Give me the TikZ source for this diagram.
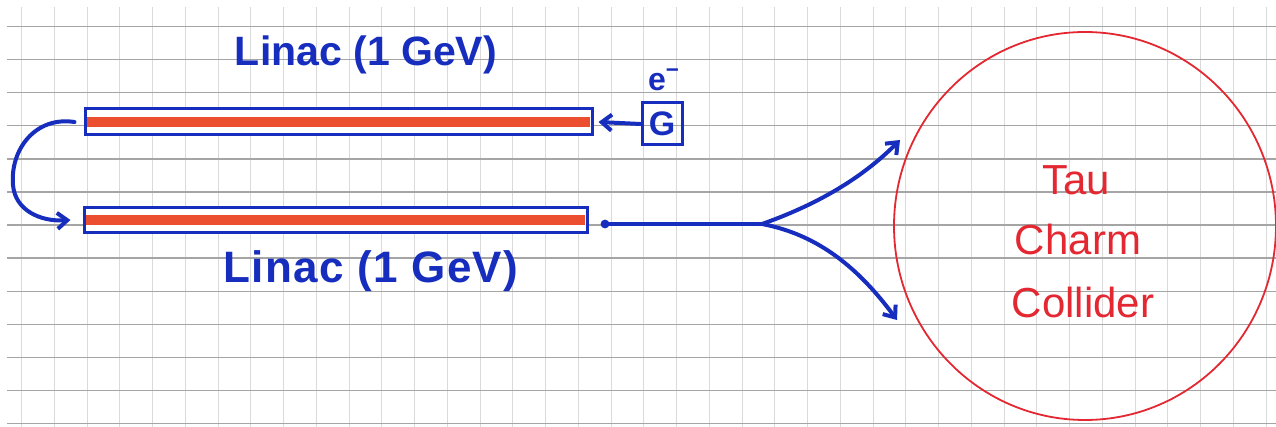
\documentclass[tikz,border=0pt]{standalone}
\usepackage{fontspec}
\setmainfont{Liberation Sans}
\usetikzlibrary{arrows.meta,shapes.geometric}
\definecolor{ink}{RGB}{22,45,190}
\definecolor{redink}{RGB}{228,40,50}
\definecolor{barred}{RGB}{236,78,48}
\definecolor{hgrid}{RGB}{165,165,165}
\definecolor{vgrid}{RGB}{218,218,218}
\begin{document}
\begin{tikzpicture}[x=0.5pt,y=-0.5pt,
  vline/.style={draw=vgrid, line width=0.5pt},
  hline/.style={draw=hgrid, line width=0.7pt},
  tube/.style={draw=ink, fill=white, line width=1.5pt, rectangle, inner sep=0pt,
    path picture={\fill[barred] ([yshift=-2.6pt]path picture bounding box.west) rectangle ([yshift=2.6pt,xshift=-1pt]path picture bounding box.east);}},
  gbox/.style={draw=ink, line width=1.5pt, rectangle, minimum width=20pt, minimum height=21pt, inner sep=0pt, text=ink, font=\fontsize{17}{20}\selectfont\bfseries},
  bluetext/.style={text=ink, inner sep=0pt, font=\fontsize{20.5}{25}\selectfont\bfseries},
  redtext/.style={text=redink, inner sep=0pt, font=\fontsize{21}{25}\selectfont},
  beam/.style={draw=ink, line width=2pt, line cap=round},
  beamarrow/.style={beam, -{Straight Barb[length=5pt,width=8pt,line width=2pt]}},
  ring/.style={draw=redink, line width=0.9pt, ellipse, inner sep=0pt}
]
\useasboundingbox (0,0) rectangle (1276,427);
\fill[white] (0,0) rectangle (1276,427);
% paper grid
\foreach \k in {0,...,38} \draw[vline] ({21.7+32.75*\k},7) -- ({21.7+32.75*\k},427);
\foreach \k in {0,...,12} \draw[hline] (7,{26.5+33.1*\k}) -- (1276,{26.5+33.1*\k});

% linacs
\node[tube, minimum width=253.5pt, minimum height=13pt] (L1) at (338.5,122) {};
\node[tube, minimum width=251.5pt, minimum height=12.5pt] (L2) at (335.5,220) {};
\node[bluetext] (t1) at (366,55) {Linac (1 GeV)};
\node[bluetext, font=\fontsize{22}{26}\selectfont\bfseries\addfontfeatures{LetterSpace=3}] (t2) at (371,271) {Linac (1 GeV)};

% gun
\node[gbox] (G) at (662,124) {G};
\node[bluetext, font=\fontsize{16}{18}\selectfont\bfseries] (e) at (664,80) {e\textsuperscript{−}};
\draw[beamarrow] (G.west) -- ([xshift=2.5pt]L1.east);

% turnaround
\draw[beamarrow] ([xshift=-4.5pt]L1.west) .. controls (35,116) and (10,150) .. (13,185)
  .. controls (15,210) and (40,222) .. ([xshift=-6pt]L2.west);

% extraction line and split
\coordinate (S) at (605,224);
\coordinate (J) at (762,224);
\coordinate (up) at (900,140);
\coordinate (dn) at (897,320);
\fill[ink] (S) circle (2.2pt);
\draw[beam] (S) -- (J);
\draw[beamarrow] (J) .. controls (830,200) and (870,170) .. (up);
\draw[beamarrow] (J) .. controls (820,235) and (860,270) .. (dn);

% collider
\node[ring, minimum width=191pt, minimum height=194pt] (C) at (1085,226) {};
\node[redtext] (c1) at (1076,180) {Tau};
\node[redtext] (c2) at (1078,239) {Charm};
\node[redtext] (c3) at (1083,302) {Collider};
\end{tikzpicture}
\end{document}
